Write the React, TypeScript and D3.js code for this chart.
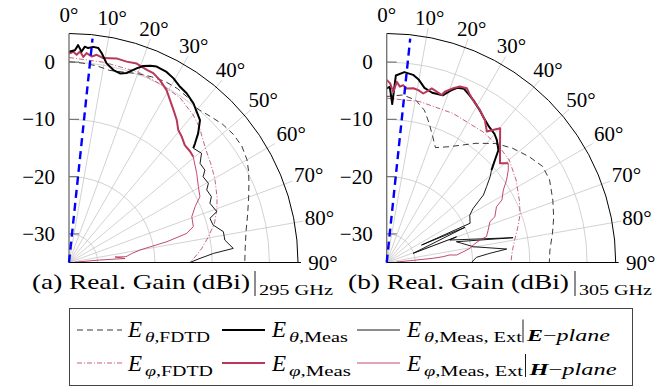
import React from 'react';
import * as d3 from 'd3';

type P = [number, number]; // [angle in degrees, gain in dBi]

const angleTicks = [0, 10, 20, 30, 40, 50, 60, 70, 80, 90];
const radialTicks = [-30, -20, -10, 0];
const radialDomain: [number, number] = [-35, 5];

// ---------- (a) 295 GHz ----------
const aThetaFdtd: P[] = [[0,0.1],[4,-0.1],[8,-0.3],[12,-0.7],[16,-0.4],[20,0.1],[24,0.5],[28,0.8],[32,0.8],[36,0.5],[40,0.0],[44,0.5],[48,1.1],[52,1.4],[56,1.4],[60,0.9],[63,0.2],[66,-0.6],[70,-1.6],[75,-2.7],[80,-3.6],[85,-4.1],[90,-4.3]];
const aThetaMeas: P[] = [[0,1.8],[1.6,2.1],[2.4,3.0],[3.4,1.9],[4.2,2.8],[5.1,2.6],[6.4,2.9],[7.8,2.8],[8.9,2.0],[10.7,0.4],[13,-0.5],[15.1,-0.8],[16.9,-0.4],[19.2,0.9],[20.7,1.7],[22.5,2.2],[24.1,2.5],[27.1,2.4],[29.5,2.0],[32.3,1.3],[34.8,1.0],[38,0.3],[40.3,-0.5],[42.6,-1.2],[45,-3.1],[46.6,-4.7],[47.4,-5.5]];
const aThetaExt: P[] = [[47.4,-5.5],[50.5,-5.0],[52.9,-6.3],[55.8,-6.3],[57.4,-7.2],[60.4,-7.0],[62.2,-7.8],[65.2,-7.6],[67.2,-8.3],[71,-7.7],[72.6,-9.2],[75.4,-9.0],[78.7,-7.5],[81.8,-7.5],[85.1,-6.2],[86.4,-9.7],[88.2,-12.1],[90,-13.9]];
const aPhiFdtd: P[] = [[0,0.8],[10,0.5],[20,0.4],[28,0.0],[34,-0.3],[40,-1.3],[44,-2.2],[50,-3.9],[55,-4.8],[60,-5.6],[66,-6.7],[70,-7.5],[75,-8.7],[80,-10.4],[84,-11.7],[87,-12.8],[90,-13.9]];
const aPhiMeas: P[] = [[0,1.5],[1.2,1.8],[2.1,1.3],[3,1.9],[4,1.0],[4.8,1.7],[6.3,1.2],[7.6,1.6],[9.5,1.2],[13.1,1.6],[16,1.5],[18.8,1.7],[22,1.3],[24,1.2],[26.5,0.6],[29.5,-0.4],[31.9,-1.6],[34.4,-2.7],[37.1,-3.8],[39.5,-5.0],[41.9,-5.5],[44.6,-6.2],[47.5,-6.3],[49.6,-6.5]];
const aPhiExt: P[] = [[49.6,-6.5],[55.1,-7.8],[59.6,-8.8],[63.3,-9.4],[66.1,-10.9],[69.5,-12.1],[73.9,-12.4],[76.1,-13.8],[78,-17.5],[80,-22.4],[82,-24],[84.2,-25],[83.2,-26.9],[85.9,-25.2],[85.4,-29.6],[87,-34]];

// ---------- (b) 305 GHz ----------
const bThetaFdtd: P[] = [[0,-6.0],[5.5,-5.6],[10.2,-6.2],[13.9,-7.6],[17,-9.6],[20.1,-11.6],[23,-13.2],[28.4,-12.0],[36.8,-9.0],[42.5,-6.8],[47.8,-5.3],[53.4,-4.0],[58.4,-3.0],[63.1,-3.1],[69.4,-4.0],[75,-4.8],[80,-5.6],[85.6,-6.4],[90,-6.6]];
const bThetaMeas: P[] = [[0,-4.6],[1,-4.3],[2,-7.3],[2.8,-2.3],[5.3,-1.6],[8,-1.9],[10,-2.6],[12.2,-3.8],[15,-4.3],[18.5,-4.2],[20.5,-2.9],[22,-2.1],[24,-1.8],[26.3,-2.4],[28.6,-3.0],[31.3,-3.8],[34,-4.6],[37,-5.3],[40,-5.7],[41.9,-6.2],[44.8,-7.3],[46.6,-9.0],[48.6,-10.6]];
const bThetaExt: P[] = [[48.6,-10.6],[50.3,-11.5],[52.8,-13.1],[55.1,-14.4],[56.4,-15.8],[58,-17.2],[60.3,-18.3],[64.8,-18.9],[63.4,-28.2],[65.8,-20.0],[70.9,-30.1],[69.8,-22.0],[70.4,-23.3],[78.9,-12.5],[73.4,-22.3],[75.6,-21.5],[79.7,-19.6],[83.6,-13.9],[84.9,-16.9],[86.7,-19.3],[90,-20.2]];
const bPhiFdtd: P[] = [[0,-6.3],[11.5,-6.3],[23.9,-6.5],[36.3,-6.65],[44.2,-6.8],[50.1,-7.1],[57.5,-8.2],[64.8,-9.4],[70,-10.2],[75,-11.3],[80,-12.3],[85,-13.0],[90,-13.3]];
const bPhiMeas: P[] = [[0,-3.1],[1.1,-3.7],[2.2,-5.2],[3.2,-3.4],[4.3,-4.2],[5.3,-3.9],[6.5,-4.4],[8.7,-4.2],[10.4,-4.4],[12.2,-4.8],[13.6,-4.1],[14.5,-3.6],[16.3,-3.9],[18.2,-4.2],[18.8,-3.5],[20.9,-2.4],[22.6,-1.7],[24.7,-1.5],[26.4,-2.3],[29,-3.2],[31.5,-3.8],[34.6,-4.8],[37.4,-6.2],[38.5,-5.5],[40.2,-4.3],[44,-6.5],[48.8,-8.7],[50.8,-7.6]];
const bPhiExt: P[] = [[50.8,-7.6],[52.7,-8.3],[55.5,-9.6],[58.1,-11.0],[61.5,-12.1],[63.1,-13.5],[67.1,-14.5],[68.4,-15.6],[72.3,-16.4],[75.5,-17.0],[76.4,-18.2],[78.6,-19.6],[80.3,-20.2],[82,-21.5],[83.9,-22.7],[83.2,-23.9],[84.1,-25.1],[84.8,-26.8],[85.6,-30.9],[87,-33.3]];

// boresight marker (blue dashed ray)
const blueRay: P[] = [[6,-35],[6,4.3]];

const RED = '#b8385a';
const FONT = '"Liberation Serif", "DejaVu Serif", serif';
const R_OUT = 229;
const rScale = d3.scaleLinear().domain(radialDomain).range([0, R_OUT]);
const toRad = (deg: number) => (deg * Math.PI) / 180;
const lineGen = d3.lineRadial<P>().angle(d => toRad(d[0])).radius(d => rScale(d[1]));
const polarXY = (deg: number, r: number): [number, number] => [r * Math.sin(toRad(deg)), -r * Math.cos(toRad(deg))];

interface Series { data: P[]; color: string; width: number; dash?: string }

const styleThetaFdtd = { color: '#222', width: 0.9, dash: '6,4' };
const styleThetaMeas = { color: '#000', width: 2.0 };
const styleThetaExt = { color: '#000', width: 0.9 };
const stylePhiFdtd = { color: RED, width: 0.8, dash: '5,2,1,2' };
const stylePhiMeas = { color: RED, width: 2.0 };
const stylePhiExt = { color: RED, width: 0.9 };

function PolarPlot({ cx, cy, series }: { cx: number; cy: number; series: Series[] }) {
  const grid = '#c6c6c6';
  return (
    <g transform={`translate(${cx},${cy})`}>
      {radialTicks.map(v => {
        const rr = rScale(v);
        return <path key={'c' + v} d={`M0,${-rr}A${rr},${rr} 0 0 1 ${rr},0`} fill="none" stroke={grid} strokeWidth={0.8} />;
      })}
      {angleTicks.filter(a => a > 0 && a < 90).map(a => {
        const [x, y] = polarXY(a, 238);
        return <line key={'s' + a} x1={0} y1={0} x2={x} y2={y} stroke={grid} strokeWidth={0.8} />;
      })}
      <path d={`M0,${-R_OUT}A${R_OUT},${R_OUT} 0 0 1 ${R_OUT},0`} fill="none" stroke="#000" strokeWidth={1} />
      {series.map((s, i) => (
        <path key={'d' + i} d={lineGen(s.data) || ''} fill="none" stroke={s.color} strokeWidth={s.width}
          strokeDasharray={s.dash} strokeLinejoin="round" />
      ))}
      <line x1={0} y1={0} x2={0} y2={-R_OUT} stroke="#777" strokeWidth={1.4} />
      {radialTicks.map(v => (
        <line key={'t' + v} x1={0} x2={10} y1={-rScale(v)} y2={-rScale(v)} stroke="#777" strokeWidth={1.2} />
      ))}
      <line x1={0} y1={0} x2={232} y2={0} stroke="#000" strokeWidth={1} />
      <path d={lineGen(blueRay) || ''} fill="none" stroke="#0000ff" strokeWidth={2.4} strokeDasharray="8,5" />
      {radialTicks.map(v => (
        <text key={'rl' + v} x={-14} y={-rScale(v) + 7} textAnchor="end" fontSize={21} style={{ fontFamily: FONT }}>
          {v < 0 ? '\u2212' + Math.abs(v) : String(v)}
        </text>
      ))}
      {angleTicks.map(a => {
        const s = Math.sin(toRad(a)), c = Math.cos(toRad(a));
        const t = Math.min(Math.abs(s) > 1e-6 ? 16 / Math.abs(s) : 1e9, Math.abs(c) > 1e-6 ? 10 / Math.abs(c) : 1e9);
        const [x, y] = polarXY(a, 238 + t);
        return (
          <text key={'al' + a} x={x} y={y + 7} textAnchor="middle" fontSize={21} style={{ fontFamily: FONT }}>{a + '\u00B0'}</text>
        );
      })}
    </g>
  );
}

function LegendLabel({ x, y, sym, sub, subW, plane, barX, planeW }: {
  x: number; y: number; sym: string; sub: string; subW: number; plane?: string; barX?: number; planeW?: number;
}) {
  return (
    <g style={{ fontFamily: FONT }}>
      <text x={x} y={y} fontSize={23} fontStyle="italic">E</text>
      <text x={x + 17} y={y + 5} fontSize={15} textLength={subW} lengthAdjust="spacingAndGlyphs">
        <tspan fontStyle="italic">{sym}</tspan>{sub}
      </text>
      {plane && barX !== undefined && (
        <>
          <line x1={barX} x2={barX} y1={y - 17} y2={y + 6} stroke="#000" strokeWidth={0.9} />
          <text x={barX + 4} y={y + 4} fontSize={16} textLength={planeW} lengthAdjust="spacingAndGlyphs">
            <tspan fontStyle="italic" fontWeight="bold">{plane}</tspan>
            <tspan>{'\u2212'}</tspan>
            <tspan fontStyle="italic">plane</tspan>
          </text>
        </>
      )}
    </g>
  );
}

export default function App() {
  const seriesA: Series[] = [
    { data: aThetaFdtd, ...styleThetaFdtd },
    { data: aPhiFdtd, ...stylePhiFdtd },
    { data: aThetaExt, ...styleThetaExt },
    { data: aPhiExt, ...stylePhiExt },
    { data: aPhiMeas, ...stylePhiMeas },
    { data: aThetaMeas, ...styleThetaMeas },
  ];
  const seriesB: Series[] = [
    { data: bThetaFdtd, ...styleThetaFdtd },
    { data: bPhiFdtd, ...stylePhiFdtd },
    { data: bThetaExt, ...styleThetaExt },
    { data: bPhiExt, ...stylePhiExt },
    { data: bThetaMeas, ...styleThetaMeas },
    { data: bPhiMeas, ...stylePhiMeas },
  ];
  const legendRows = [
    { y: 330, base: 336.5, items: [styleThetaFdtd, styleThetaMeas, styleThetaExt], sym: '\u03B8', plane: 'E', barX: 523, planeW: 83, subs: [[',FDTD', 65], [',Meas', 59], [',Meas, Ext', 98]] },
    { y: 363, base: 371, items: [stylePhiFdtd, stylePhiMeas, stylePhiExt], sym: '\u03C6', plane: 'H', barX: 525.5, planeW: 87, subs: [[',FDTD', 68], [',Meas', 62], [',Meas, Ext', 99]] },
  ];
  const lineX: [number, number][] = [[77, 122], [222, 265], [357, 400]];
  const textX = [128, 272, 407];
  return (
    <svg width={672} height={386} style={{ position: 'absolute', left: 0, top: 0 }}>
      <rect width={672} height={386} fill="#fff" />
      <PolarPlot cx={69} cy={262.5} series={seriesA} />
      <PolarPlot cx={386.7} cy={262.5} series={seriesB} />
      {/* captions */}
      <g style={{ fontFamily: FONT }}>
        <text x={32} y={289} fontSize={22} textLength={218} lengthAdjust="spacingAndGlyphs">(a) Real. Gain (dBi)</text>
        <line x1={255} x2={255} y1={271} y2={296} stroke="#000" strokeWidth={0.9} />
        <text x={259} y={294.5} fontSize={15} textLength={74} lengthAdjust="spacingAndGlyphs">295 GHz</text>
        <text x={348} y={289} fontSize={22} textLength={221} lengthAdjust="spacingAndGlyphs">(b) Real. Gain (dBi)</text>
        <line x1={575} x2={575} y1={271} y2={296} stroke="#000" strokeWidth={0.9} />
        <text x={579} y={294.5} fontSize={15} textLength={73} lengthAdjust="spacingAndGlyphs">305 GHz</text>
      </g>
      {/* legend */}
      <rect x={69.5} y={308.5} width={563} height={77} fill="none" stroke="#444" strokeWidth={1} />
      {legendRows.map((row, ri) => (
        <g key={'lr' + ri}>
          {row.items.map((st, i) => (
            <line key={'ll' + i} x1={lineX[i][0]} x2={lineX[i][1]} y1={row.y} y2={row.y} stroke={st.color}
              strokeWidth={st.width} strokeDasharray={(st as any).dash} />
          ))}
          {row.subs.map((s, i) => (
            <LegendLabel key={'lt' + i} x={textX[i]} y={row.base} sym={row.sym} sub={s[0] as string} subW={s[1] as number}
              plane={i === 2 ? row.plane : undefined} barX={row.barX} planeW={row.planeW} />
          ))}
        </g>
      ))}
    </svg>
  );
}
